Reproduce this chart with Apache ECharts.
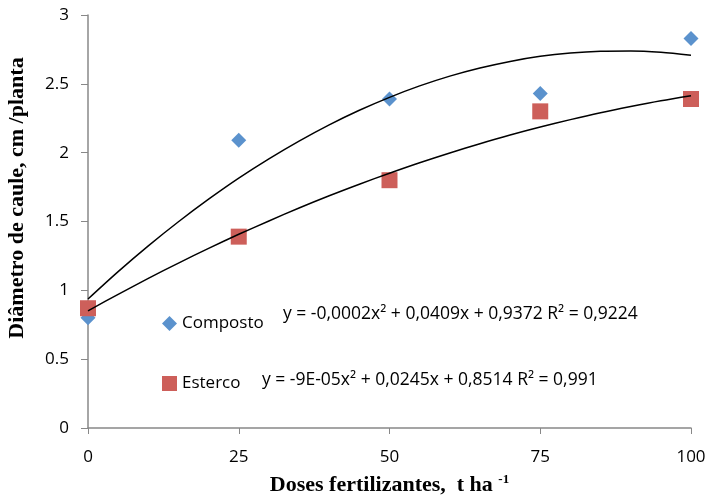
<!DOCTYPE html>
<html>
<head>
<meta charset="utf-8">
<script src="https://cdn.jsdelivr.net/npm/echarts@6/dist/echarts.min.js"></script>
<style>
  html, body { margin: 0; padding: 0; background: #fff; }
  #main { width: 708px; height: 497px; }
</style>
</head>
<body>
<div id="main"></div>
<script>
// doses (t/ha) and measured stem diameter
var doses = [0, 25, 50, 75, 100];
var composto = [0.80, 2.09, 2.39, 2.43, 2.83];
var esterco = [0.87, 1.39, 1.80, 2.30, 2.39];

// trend curves
var trendX = [0, 5, 10, 15, 20, 25, 30, 35, 40, 45, 50, 55, 60, 65, 70, 75, 80, 85, 90, 95, 100];
var trendComposto = [0.937, 1.136, 1.323, 1.498, 1.662, 1.815, 1.955, 2.084, 2.202, 2.308, 2.402, 2.485, 2.556, 2.615, 2.663, 2.700, 2.724, 2.737, 2.739, 2.729, 2.707];
var trendEsterco = [0.851, 0.971, 1.087, 1.198, 1.305, 1.407, 1.504, 1.598, 1.687, 1.771, 1.851, 1.927, 1.998, 2.065, 2.128, 2.186, 2.240, 2.290, 2.335, 2.377, 2.414];

var yTicks = ['0', '0.5', '1', '1.5', '2', '2.5', '3'];

function pairs(xs, ys) {
    return xs.map(function (x, i) { return [x, ys[i]]; });
}

var myChart = echarts.init(document.getElementById('main'));
var option = {
    animation: false,
    grid: { left: 88, right: 17, top: 15, bottom: 69, outerBoundsMode: 'none', containLabel: false },
    legend: {
        left: 157,
        top: 310,
        orient: 'vertical',
        itemGap: 43,
        itemWidth: 15,
        itemHeight: 15,
        data: [
            { name: 'Composto', icon: 'diamond' },
            { name: 'Esterco', icon: 'rect' }
        ],
        textStyle: { fontFamily: 'Open Sans', fontSize: 17, color: '#000' }
    },
    xAxis: {
        type: 'value',
        min: 0, max: 100, interval: 25,
        name: 'Doses fertilizantes,  t ha {sup|-1}',
        nameLocation: 'middle',
        nameGap: 45,
        nameTextStyle: {
            fontFamily: 'Liberation Serif', fontWeight: 'bold', fontSize: 22, color: '#000',
            rich: { sup: { fontFamily: 'Liberation Serif', fontWeight: 'bold', fontSize: 13, verticalAlign: 'top', padding: [0, 0, 12, 0] } }
        },
        splitLine: { show: false },
        axisLine: { lineStyle: { color: '#888', width: 1.5 } },
        axisTick: { show: true, length: 6, lineStyle: { color: '#888' } },
        axisLabel: { fontFamily: 'Open Sans', fontSize: 17, color: '#000', margin: 21 }
    },
    yAxis: {
        type: 'value',
        min: 0, max: 3, interval: 0.5,
        splitLine: { show: false },
        axisLine: { show: true, lineStyle: { color: '#888', width: 1.5 } },
        axisTick: { show: true, length: 7, lineStyle: { color: '#888' } },
        axisLabel: {
            fontFamily: 'Open Sans', fontSize: 17, color: '#000', margin: 19,
            formatter: function (v) { return yTicks[Math.round(v * 2)]; }
        }
    },
    graphic: [
        {
            type: 'text', x: 17, y: 198, rotation: Math.PI / 2,
            style: {
                text: 'Diâmetro de caule, cm /planta',
                font: 'bold 22px "Liberation Serif"', fill: '#000',
                align: 'center', verticalAlign: 'middle'
            }
        },
        {
            type: 'text', left: 283, top: 305,
            style: { text: 'y = -0,0002x² + 0,0409x + 0,9372 R² = 0,9224', font: '17.5px "Open Sans"', fill: '#000' }
        },
        {
            type: 'text', left: 262, top: 371,
            style: { text: 'y = -9E-05x² + 0,0245x + 0,8514 R² = 0,991', font: '17.5px "Open Sans"', fill: '#000' }
        }
    ],
    series: [
        {
            name: 'trendComposto', type: 'line', data: pairs(trendX, trendComposto),
            smooth: 0.3, showSymbol: false, silent: true,
            lineStyle: { color: '#000', width: 1.5 }
        },
        {
            name: 'trendEsterco', type: 'line', data: pairs(trendX, trendEsterco),
            smooth: 0.3, showSymbol: false, silent: true,
            lineStyle: { color: '#000', width: 1.5 }
        },
        {
            name: 'Composto', type: 'scatter', data: pairs(doses, composto),
            symbol: 'diamond', symbolSize: 15,
            itemStyle: { color: '#5B92CD', opacity: 1 }
        },
        {
            name: 'Esterco', type: 'scatter', data: pairs(doses, esterco),
            symbol: 'rect', symbolSize: 16,
            itemStyle: { color: '#CD5F5A', opacity: 1 }
        }
    ]
};
myChart.setOption(option);
</script>
</body>
</html>
